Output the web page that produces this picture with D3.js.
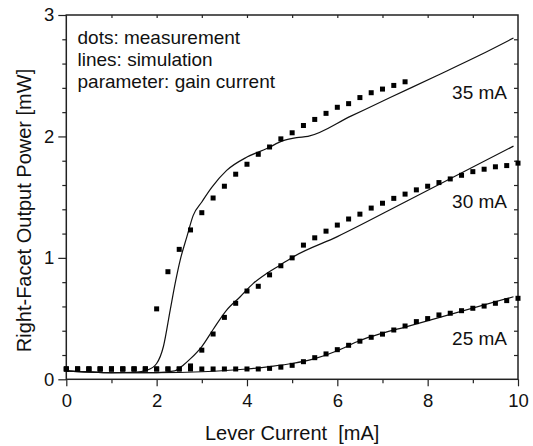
<!DOCTYPE html>
<html><head><meta charset="utf-8">
<script src="https://cdn.jsdelivr.net/npm/d3@7/dist/d3.min.js"></script>
<style>
body{margin:0;background:#fff;}
text{font-family:"Liberation Sans",Arial,sans-serif;fill:#111;}
</style></head>
<body><svg id="c" width="533" height="446"></svg>
<script>
// measurement x positions (mA)
const xMeas35 = d3.range(0, 7.51, 0.25);
const xMeas = d3.range(0, 10.01, 0.25);
// measured points (mW)
const meas35 = [0.085,0.085,0.085,0.085,0.085,0.085,0.085,0.085,
  0.58,0.886,1.07,1.23,1.372,1.493,1.59,1.689,1.771,1.853,1.913,1.98,2.03,2.09,2.14,2.19,2.24,2.27,2.32,2.36,2.39,2.42,2.45];
const meas30 = [0.085,0.085,0.085,0.085,0.085,0.085,0.085,0.085,0.085,0.085,0.085,
  0.11,0.24,0.373,0.51,0.626,0.727,0.766,0.86,0.935,1.00,1.105,1.165,1.22,1.27,1.32,1.36,1.41,1.45,1.49,1.525,1.56,1.59,1.62,1.65,1.68,1.71,1.73,1.75,1.76,1.78];
const meas25 = [0.085,0.085,0.085,0.085,0.085,0.085,0.085,0.085,0.085,0.085,0.085,0.085,0.085,0.085,0.085,0.085,0.085,0.085,
  0.09,0.10,0.115,0.145,0.178,0.209,0.244,0.28,0.314,0.346,0.372,0.406,0.439,0.475,0.50,0.53,0.544,0.565,0.585,0.603,0.626,0.648,0.667];
// simulation curves
const simX35 = [0,0.5,1,1.5,1.8,2.0,2.15,2.3,2.41,2.52,2.67,2.81,3.0,3.22,3.55,4.0,4.44,4.8,5.1,5.35,6.3,7.17,8.2,9.16,9.9];
const simY35 = [0.07,0.06,0.055,0.058,0.077,0.13,0.27,0.57,0.79,0.98,1.175,1.35,1.46,1.58,1.72,1.83,1.90,1.965,1.99,2.00,2.167,2.32,2.50,2.67,2.81];
const simX30 = [0,1,2,2.4,2.6,2.75,3.0,3.25,3.55,3.85,4.14,4.44,4.73,5.03,6.0,7.5,9.9];
const simY30 = [0.07,0.055,0.055,0.07,0.12,0.17,0.27,0.41,0.57,0.68,0.79,0.873,0.94,1.01,1.175,1.46,1.92];
const simX25 = [0,1,2,3,4,4.5,5.0,5.5,6.0,6.5,7.0,7.5,9.9];
const simY25 = [0.07,0.055,0.055,0.062,0.085,0.105,0.13,0.17,0.235,0.32,0.38,0.43,0.68];
const xTicks = [0,2,4,6,8,10];
const xMinor = [1,3,5,7,9];
const yTicks = [0,1,2,3];
const yMinor = d3.range(0,3.01,0.2).filter(v=>Math.abs(v-Math.round(v))>1e-6);
const labels = [{t:"35 mA", y:2.31},{t:"30 mA", y:1.408},{t:"25 mA", y:0.282}];
const notes = ["dots: measurement","lines: simulation","parameter: gain current"];

const svg = d3.select("#c");
const L=66.3,R=518,T=15,B=379.3;
const x = d3.scaleLinear().domain([0,10]).range([L,R]);
const y = d3.scaleLinear().domain([0,3]).range([B,T]);

function styleAxis(g){g.select(".domain").remove();g.selectAll("line").attr("stroke","#222").attr("stroke-width",1.2);g.selectAll("text").attr("font-size",18.5).attr("fill","#111").attr("font-family","Liberation Sans, Arial, sans-serif");}

svg.append("g").attr("transform",`translate(0,${B})`).call(d3.axisBottom(x).tickValues(xTicks).tickSize(7).tickPadding(8).tickFormat(d3.format("d"))).call(styleAxis);
svg.append("g").attr("transform",`translate(0,${B})`).call(d3.axisBottom(x).tickValues(xMinor).tickSize(4).tickFormat("")).call(styleAxis);
svg.append("g").attr("transform",`translate(0,${T})`).call(d3.axisTop(x).tickValues(d3.range(1,10)).tickSize(-3).tickFormat("")).call(styleAxis);
svg.append("g").attr("transform",`translate(${L},0)`).call(d3.axisLeft(y).tickValues(yTicks).tickSize(8).tickPadding(4).tickFormat(d3.format("d"))).call(styleAxis);
svg.append("g").attr("transform",`translate(${L},0)`).call(d3.axisLeft(y).tickValues(yMinor).tickSize(4).tickFormat("")).call(styleAxis);
svg.append("g").attr("transform",`translate(${R},0)`).call(d3.axisRight(y).tickValues(yMinor.concat([1,2])).tickSize(-4).tickFormat("")).call(styleAxis);

svg.append("rect").attr("x",L).attr("y",T).attr("width",R-L).attr("height",B-T)
  .attr("fill","none").attr("stroke","#222").attr("stroke-width",1.5);

const line = d3.line().x(d=>x(d[0])).y(d=>y(d[1])).curve(d3.curveMonotoneX);
[[simX35,simY35],[simX30,simY30],[simX25,simY25]].forEach(([xs,ys])=>{
  svg.append("path").datum(xs.map((v,i)=>[v,ys[i]])).attr("d",line)
    .attr("fill","none").attr("stroke","#111").attr("stroke-width",1.2);
});
const s=5;
[[xMeas35,meas35],[xMeas,meas30],[xMeas,meas25]].forEach(([xs,ys])=>{
  svg.append("g").selectAll("rect").data(xs.map((v,i)=>[v,ys[i]])).join("rect")
    .attr("x",d=>x(d[0])-s/2).attr("y",d=>y(d[1])-s/2).attr("width",s).attr("height",s).attr("fill","#000");
});

notes.forEach((t,i)=>svg.append("text").attr("x",77.5).attr("y",44+i*22).attr("font-size",19).text(t));
labels.forEach(l=>svg.append("text").attr("x",507).attr("y",y(l.y)).attr("text-anchor","end").attr("font-size",19).text(l.t));

svg.append("text").attr("x",(L+R)/2).attr("y",440).attr("text-anchor","middle").attr("font-size",20).text("Lever Current  [mA]").attr("style","white-space:pre");
svg.append("text").attr("transform",`translate(31,${210.5}) rotate(-90)`).attr("text-anchor","middle").attr("font-size",20).text("Right-Facet Output Power [mW]");
</script></body></html>
